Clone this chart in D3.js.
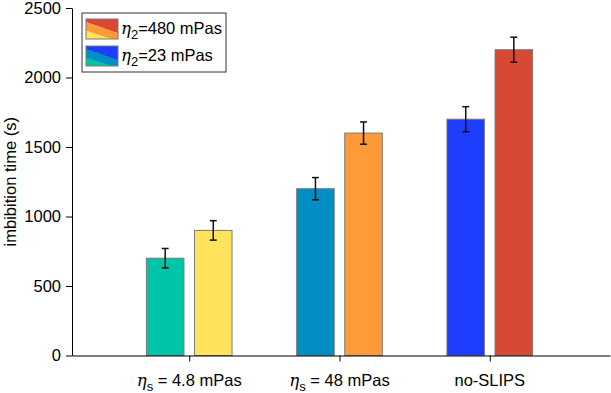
<!DOCTYPE html>
<html>
<head>
<meta charset="utf-8">
<script src="https://cdn.jsdelivr.net/npm/d3@7"></script>
<style>
  body { margin: 0; background: #fff; }
  svg { font-family: "Liberation Sans", Arial, sans-serif; }
  .axis path, .axis line { stroke: #000; }
  .axis text { fill: #000; }
</style>
</head>
<body>
<svg id="chart"></svg>
<script>
// chart data
const categories = [1, 2, 3];
const lowVisc = [700, 1200, 1700];     // eta2 = 23 mPas
const lowErr = [70, 80, 90];
const highVisc = [900, 1600, 2200];    // eta2 = 480 mPas
const highErr = [70, 80, 90];
const lowColors = ['#00c4a7', '#008ec4', '#1f3dfc'];
const highColors = ['#ffe35a', '#ff9a3a', '#d84935'];
const yTicks = [0, 500, 1000, 1500, 2000, 2500];

const W = 611, H = 393;
const margin = {top: 8, right: 1, bottom: 37.5, left: 72};
const FS = 16.5;

const svg = d3.select('#chart').attr('width', W).attr('height', H);
const chart = svg.append('g').attr('transform', `translate(${margin.left},${margin.top})`);
const width = W - margin.left - margin.right;
const height = H - margin.top - margin.bottom;

const xScale = d3.scaleLinear().domain([0.22, 3.8]).range([0, width]);
const yScale = d3.scaleLinear().domain([0, 2500]).range([height, 0]);

const barW = 0.25, offset = 0.16;
const unit = xScale(1) - xScale(0);

// series as rows
const series = [
  {vals: lowVisc, err: lowErr, cols: lowColors, dx: -offset},
  {vals: highVisc, err: highErr, cols: highColors, dx: offset}
];

series.forEach(s => {
  const rows = categories.map((c, i) => ({c, v: s.vals[i], e: s.err[i], col: s.cols[i]}));
  chart.selectAll(null).data(rows).join('rect')
    .attr('x', d => xScale(d.c + s.dx - barW / 2))
    .attr('width', barW * unit)
    .attr('y', d => yScale(d.v))
    .attr('height', d => height - yScale(d.v))
    .attr('fill', d => d.col)
    .attr('stroke', '#7a7a7a')
    .attr('stroke-width', 1);

  // error bars
  const eb = chart.selectAll(null).data(rows).join('g')
    .attr('stroke', '#111').attr('stroke-width', 1.5);
  eb.append('line')
    .attr('x1', d => xScale(d.c + s.dx)).attr('x2', d => xScale(d.c + s.dx))
    .attr('y1', d => yScale(d.v + d.e)).attr('y2', d => yScale(d.v - d.e));
  [1, -1].forEach(sg => {
    eb.append('line')
      .attr('x1', d => xScale(d.c + s.dx) - 3.5).attr('x2', d => xScale(d.c + s.dx) + 3.5)
      .attr('y1', d => yScale(d.v + sg * d.e)).attr('y2', d => yScale(d.v + sg * d.e));
  });
});

// axes
const yAxis = d3.axisLeft(yScale).tickValues(yTicks).tickSize(6).tickSizeOuter(0)
  .tickPadding(5).tickFormat(d3.format('d'));
chart.append('g').attr('class', 'axis').call(yAxis)
  .attr('font-size', FS).attr('font-family', null);

const xAxis = d3.axisBottom(xScale).tickValues(categories).tickSize(6).tickSizeOuter(0).tickFormat('');
chart.append('g').attr('class', 'axis').attr('transform', `translate(0,${height})`).call(xAxis);

// category labels with subscripts
const catLabels = [
  {sym: true, sub: 's', rest: ' = 4.8 mPas'},
  {sym: true, sub: 's', rest: ' = 48 mPas'},
  {sym: false, rest: 'no-SLIPS'}
];
catLabels.forEach((l, i) => {
  const t = chart.append('text')
    .attr('x', xScale(categories[i]))
    .attr('y', height + 30)
    .attr('text-anchor', 'middle')
    .attr('font-size', FS);
  if (l.sym) {
    t.append('tspan').attr('font-family', '"DejaVu Serif", serif').attr('font-style', 'italic').text('η');
    t.append('tspan').attr('font-size', 13).attr('dy', 5).text(l.sub);
    t.append('tspan').attr('dy', -5).text(l.rest);
  } else {
    t.text(l.rest);
  }
});

// y label
chart.append('text')
  .attr('transform', 'rotate(-90)')
  .attr('x', -height / 2)
  .attr('y', -56)
  .attr('text-anchor', 'middle')
  .attr('font-size', FS)
  .text('imbibition time (s)');

// legend
const defs = svg.append('defs');
const gradDef = [
  {id: 'gHigh', cols: [highColors[0], highColors[1], highColors[2]]},
  {id: 'gLow', cols: [lowColors[0], lowColors[1], lowColors[2]]}
];
gradDef.forEach(g => {
  const lg = defs.append('linearGradient').attr('id', g.id)
    .attr('x1', 0).attr('y1', 1).attr('x2', 0.55).attr('y2', 0);
  [[0, 0], [0.33, 0], [0.33, 1], [0.66, 1], [0.66, 2], [1, 2]].forEach(([o, k]) => {
    lg.append('stop').attr('offset', o).attr('stop-color', g.cols[k]);
  });
});

const legend = svg.append('g').attr('transform', 'translate(82,13)');
legend.append('rect').attr('width', 144).attr('height', 59)
  .attr('fill', '#fff').attr('stroke', '#333').attr('stroke-width', 1);
const legItems = [
  {grad: 'gHigh', val: '=480 mPas'},
  {grad: 'gLow', val: '=23 mPas'}
];
legItems.forEach((it, i) => {
  const gy = 6 + i * 27;
  legend.append('rect').attr('x', 4).attr('y', gy).attr('width', 32).attr('height', 20)
    .attr('fill', `url(#${it.grad})`).attr('stroke', '#7a7a7a');
  const t = legend.append('text').attr('x', 39).attr('y', gy + 15).attr('font-size', FS);
  t.append('tspan').attr('font-family', '"DejaVu Serif", serif').attr('font-style', 'italic').text('η');
  t.append('tspan').attr('font-size', 13).attr('dy', 5).text('2');
  t.append('tspan').attr('dy', -5).text(it.val);
});
</script>
</body>
</html>
